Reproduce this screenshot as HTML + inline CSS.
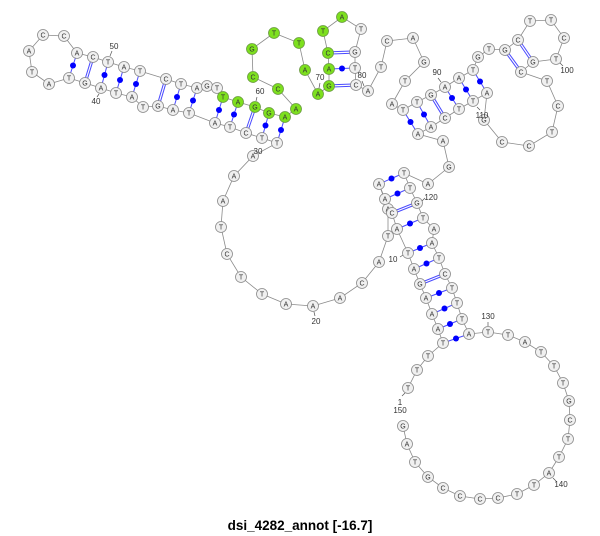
<!DOCTYPE html>
<html><head><meta charset="utf-8"><style>
html,body{margin:0;padding:0;background:#fff;}
svg{display:block;}
.bb{stroke:#8a8a8a;stroke-width:0.8;fill:none;}
.p{stroke:#4a4aff;stroke-width:1;}
.gc{stroke:#4a4aff;stroke-width:3.2;}
.gcw{stroke:#fff;stroke-width:1.2;}
.d{fill:#0000ff;}
circle.n{fill:#f0f0f0;stroke:#8a8a8a;stroke-width:0.8;}
circle.g{fill:#7de01e;stroke:#6a9a40;stroke-width:0.8;}
text{font-family:"Liberation Sans",sans-serif;font-size:7px;fill:#333;text-anchor:middle;}
text.l{font-size:8px;fill:#333;}
text.t{font-size:13.5px;font-weight:bold;fill:#000;}
.tk{stroke:#555;stroke-width:0.7;}
</style></head><body>
<svg width="600" height="536" viewBox="0 0 600 536" xmlns="http://www.w3.org/2000/svg">
<polyline class="bb" points="408,388 417,370 428,356 443,343 438,329 432,314 426,298 420,284 414,269 408,253 397,229 392,213 385,199 379,184 388,209 388,236 379,262 362,283 340,298 313,306 286,304 262,294 241,277 227,254 221,227 223,201 234,176 253,156 277,143 262,138 246,133 230,127 215,123 189,113 173,110 158,106 143,107 132,97 116,93 101,88 85,83 69,78 49,84 32,72 29,51 43,35 64,36 77,53 93,57 108,62 124,67 140,71 166,79 181,84 197,88 207,86 217,88 223,97 238,102 255,107 269,113 285,117 296,109 278,89 253,77 252,49 274,33 299,43 305,70 318,94 329,86 329,69 328,53 323,31 342,17 361,29 355,52 355,68 356,85 368,91 381,67 387,41 413,38 424,62 405,81 392,104 403,110 417,102 431,95 445,87 459,78 473,70 478,57 489,49 505,50 518,40 530,21 551,20 564,38 556,59 533,62 521,72 547,81 558,106 552,132 529,146 502,142 484,120 487,93 473,101 459,109 445,118 431,127 418,134 443,141 449,167 428,184 404,173 410,188 417,203 423,218 434,229 432,243 439,258 445,274 452,288 457,303 462,319 469,334 488,332 508,335 525,342 541,352 554,366 563,383 569,401 570,420 568,439 559,457 549,473 534,485 517,494 498,498 480,499 460,496 443,488 428,477 415,462 407,444 403,426"/>
<g class="p">
<line x1="77" y1="53" x2="69" y2="78"/><line x1="108" y1="62" x2="101" y2="88"/><line x1="124" y1="67" x2="116" y2="93"/><line x1="140" y1="71" x2="132" y2="97"/><line x1="181" y1="84" x2="173" y2="110"/><line x1="197" y1="88" x2="189" y2="113"/><line x1="223" y1="97" x2="215" y2="123"/><line x1="238" y1="102" x2="230" y2="127"/><line x1="269" y1="113" x2="262" y2="138"/><line x1="285" y1="117" x2="277" y2="143"/>
<line x1="329" y1="69" x2="355" y2="68"/>
<line x1="403" y1="110" x2="418" y2="134"/><line x1="417" y1="102" x2="431" y2="127"/><line x1="445" y1="87" x2="459" y2="109"/><line x1="459" y1="78" x2="473" y2="101"/><line x1="473" y1="70" x2="487" y2="93"/>
<line x1="443" y1="343" x2="469" y2="334"/><line x1="438" y1="329" x2="462" y2="319"/><line x1="432" y1="314" x2="457" y2="303"/><line x1="426" y1="298" x2="452" y2="288"/><line x1="414" y1="269" x2="439" y2="258"/><line x1="408" y1="253" x2="432" y2="243"/><line x1="397" y1="229" x2="423" y2="218"/><line x1="385" y1="199" x2="410" y2="188"/><line x1="379" y1="184" x2="404" y2="173"/>
</g>
<g class="gc">
<line x1="93" y1="57" x2="85" y2="83"/><line x1="166" y1="79" x2="158" y2="106"/><line x1="255" y1="107" x2="246" y2="133"/><line x1="328" y1="53" x2="355" y2="52"/><line x1="329" y1="86" x2="356" y2="85"/><line x1="431" y1="95" x2="445" y2="118"/><line x1="505" y1="50" x2="521" y2="72"/><line x1="518" y1="40" x2="533" y2="62"/><line x1="420" y1="284" x2="445" y2="274"/><line x1="392" y1="213" x2="417" y2="203"/>
</g>
<g class="gcw">
<line x1="93" y1="57" x2="85" y2="83"/><line x1="166" y1="79" x2="158" y2="106"/><line x1="255" y1="107" x2="246" y2="133"/><line x1="328" y1="53" x2="355" y2="52"/><line x1="329" y1="86" x2="356" y2="85"/><line x1="431" y1="95" x2="445" y2="118"/><line x1="505" y1="50" x2="521" y2="72"/><line x1="518" y1="40" x2="533" y2="62"/><line x1="420" y1="284" x2="445" y2="274"/><line x1="392" y1="213" x2="417" y2="203"/>
</g>
<g class="d">
<circle cx="73" cy="65.5" r="3"/><circle cx="104.5" cy="75" r="3"/><circle cx="120" cy="80" r="3"/><circle cx="136" cy="84" r="3"/><circle cx="177" cy="97" r="3"/><circle cx="193" cy="100.5" r="3"/><circle cx="219" cy="110" r="3"/><circle cx="234" cy="114.5" r="3"/><circle cx="265.5" cy="125.5" r="3"/><circle cx="281" cy="130" r="3"/>
<circle cx="342" cy="68.5" r="3"/>
<circle cx="410.5" cy="122" r="3"/><circle cx="424" cy="114.5" r="3"/><circle cx="452" cy="98" r="3"/><circle cx="466" cy="89.5" r="3"/><circle cx="480" cy="81.5" r="3"/>
<circle cx="456" cy="338.5" r="3"/><circle cx="450" cy="324" r="3"/><circle cx="444.5" cy="308.5" r="3"/><circle cx="439" cy="293" r="3"/><circle cx="426.5" cy="263.5" r="3"/><circle cx="420" cy="248" r="3"/><circle cx="410" cy="223.5" r="3"/><circle cx="397.5" cy="193.5" r="3"/><circle cx="391.5" cy="178.5" r="3"/>
</g>
<g>
<circle class="n" cx="388" cy="209" r="5.5"/><text x="388" y="211.5">A</text>
<circle class="n" cx="408" cy="388" r="5.5"/><text x="408" y="390.5">T</text>
<circle class="n" cx="417" cy="370" r="5.5"/><text x="417" y="372.5">T</text>
<circle class="n" cx="428" cy="356" r="5.5"/><text x="428" y="358.5">T</text>
<circle class="n" cx="443" cy="343" r="5.5"/><text x="443" y="345.5">T</text>
<circle class="n" cx="438" cy="329" r="5.5"/><text x="438" y="331.5">A</text>
<circle class="n" cx="432" cy="314" r="5.5"/><text x="432" y="316.5">A</text>
<circle class="n" cx="426" cy="298" r="5.5"/><text x="426" y="300.5">A</text>
<circle class="n" cx="420" cy="284" r="5.5"/><text x="420" y="286.5">G</text>
<circle class="n" cx="414" cy="269" r="5.5"/><text x="414" y="271.5">A</text>
<circle class="n" cx="408" cy="253" r="5.5"/><text x="408" y="255.5">T</text>
<circle class="n" cx="397" cy="229" r="5.5"/><text x="397" y="231.5">A</text>
<circle class="n" cx="392" cy="213" r="5.5"/><text x="392" y="215.5">C</text>
<circle class="n" cx="385" cy="199" r="5.5"/><text x="385" y="201.5">A</text>
<circle class="n" cx="379" cy="184" r="5.5"/><text x="379" y="186.5">A</text>
<circle class="n" cx="388" cy="236" r="5.5"/><text x="388" y="238.5">T</text>
<circle class="n" cx="379" cy="262" r="5.5"/><text x="379" y="264.5">A</text>
<circle class="n" cx="362" cy="283" r="5.5"/><text x="362" y="285.5">C</text>
<circle class="n" cx="340" cy="298" r="5.5"/><text x="340" y="300.5">A</text>
<circle class="n" cx="313" cy="306" r="5.5"/><text x="313" y="308.5">A</text>
<circle class="n" cx="286" cy="304" r="5.5"/><text x="286" y="306.5">A</text>
<circle class="n" cx="262" cy="294" r="5.5"/><text x="262" y="296.5">T</text>
<circle class="n" cx="241" cy="277" r="5.5"/><text x="241" y="279.5">T</text>
<circle class="n" cx="227" cy="254" r="5.5"/><text x="227" y="256.5">C</text>
<circle class="n" cx="221" cy="227" r="5.5"/><text x="221" y="229.5">T</text>
<circle class="n" cx="223" cy="201" r="5.5"/><text x="223" y="203.5">A</text>
<circle class="n" cx="234" cy="176" r="5.5"/><text x="234" y="178.5">A</text>
<circle class="n" cx="253" cy="156" r="5.5"/><text x="253" y="158.5">A</text>
<circle class="n" cx="277" cy="143" r="5.5"/><text x="277" y="145.5">T</text>
<circle class="n" cx="262" cy="138" r="5.5"/><text x="262" y="140.5">T</text>
<circle class="n" cx="246" cy="133" r="5.5"/><text x="246" y="135.5">C</text>
<circle class="n" cx="230" cy="127" r="5.5"/><text x="230" y="129.5">T</text>
<circle class="n" cx="215" cy="123" r="5.5"/><text x="215" y="125.5">A</text>
<circle class="n" cx="189" cy="113" r="5.5"/><text x="189" y="115.5">T</text>
<circle class="n" cx="173" cy="110" r="5.5"/><text x="173" y="112.5">A</text>
<circle class="n" cx="158" cy="106" r="5.5"/><text x="158" y="108.5">G</text>
<circle class="n" cx="143" cy="107" r="5.5"/><text x="143" y="109.5">T</text>
<circle class="n" cx="132" cy="97" r="5.5"/><text x="132" y="99.5">A</text>
<circle class="n" cx="116" cy="93" r="5.5"/><text x="116" y="95.5">T</text>
<circle class="n" cx="101" cy="88" r="5.5"/><text x="101" y="90.5">A</text>
<circle class="n" cx="85" cy="83" r="5.5"/><text x="85" y="85.5">G</text>
<circle class="n" cx="69" cy="78" r="5.5"/><text x="69" y="80.5">T</text>
<circle class="n" cx="49" cy="84" r="5.5"/><text x="49" y="86.5">A</text>
<circle class="n" cx="32" cy="72" r="5.5"/><text x="32" y="74.5">T</text>
<circle class="n" cx="29" cy="51" r="5.5"/><text x="29" y="53.5">A</text>
<circle class="n" cx="43" cy="35" r="5.5"/><text x="43" y="37.5">C</text>
<circle class="n" cx="64" cy="36" r="5.5"/><text x="64" y="38.5">C</text>
<circle class="n" cx="77" cy="53" r="5.5"/><text x="77" y="55.5">A</text>
<circle class="n" cx="93" cy="57" r="5.5"/><text x="93" y="59.5">C</text>
<circle class="n" cx="108" cy="62" r="5.5"/><text x="108" y="64.5">T</text>
<circle class="n" cx="124" cy="67" r="5.5"/><text x="124" y="69.5">A</text>
<circle class="n" cx="140" cy="71" r="5.5"/><text x="140" y="73.5">T</text>
<circle class="n" cx="166" cy="79" r="5.5"/><text x="166" y="81.5">C</text>
<circle class="n" cx="181" cy="84" r="5.5"/><text x="181" y="86.5">T</text>
<circle class="n" cx="197" cy="88" r="5.5"/><text x="197" y="90.5">A</text>
<circle class="n" cx="207" cy="86" r="5.5"/><text x="207" y="88.5">G</text>
<circle class="n" cx="217" cy="88" r="5.5"/><text x="217" y="90.5">T</text>
<circle class="g" cx="223" cy="97" r="5.5"/><text x="223" y="99.5">T</text>
<circle class="g" cx="238" cy="102" r="5.5"/><text x="238" y="104.5">A</text>
<circle class="g" cx="255" cy="107" r="5.5"/><text x="255" y="109.5">G</text>
<circle class="g" cx="269" cy="113" r="5.5"/><text x="269" y="115.5">G</text>
<circle class="g" cx="285" cy="117" r="5.5"/><text x="285" y="119.5">A</text>
<circle class="g" cx="296" cy="109" r="5.5"/><text x="296" y="111.5">A</text>
<circle class="g" cx="278" cy="89" r="5.5"/><text x="278" y="91.5">C</text>
<circle class="g" cx="253" cy="77" r="5.5"/><text x="253" y="79.5">C</text>
<circle class="g" cx="252" cy="49" r="5.5"/><text x="252" y="51.5">G</text>
<circle class="g" cx="274" cy="33" r="5.5"/><text x="274" y="35.5">T</text>
<circle class="g" cx="299" cy="43" r="5.5"/><text x="299" y="45.5">T</text>
<circle class="g" cx="305" cy="70" r="5.5"/><text x="305" y="72.5">A</text>
<circle class="g" cx="318" cy="94" r="5.5"/><text x="318" y="96.5">A</text>
<circle class="g" cx="329" cy="86" r="5.5"/><text x="329" y="88.5">G</text>
<circle class="g" cx="329" cy="69" r="5.5"/><text x="329" y="71.5">A</text>
<circle class="g" cx="328" cy="53" r="5.5"/><text x="328" y="55.5">C</text>
<circle class="g" cx="323" cy="31" r="5.5"/><text x="323" y="33.5">T</text>
<circle class="g" cx="342" cy="17" r="5.5"/><text x="342" y="19.5">A</text>
<circle class="n" cx="361" cy="29" r="5.5"/><text x="361" y="31.5">T</text>
<circle class="n" cx="355" cy="52" r="5.5"/><text x="355" y="54.5">G</text>
<circle class="n" cx="355" cy="68" r="5.5"/><text x="355" y="70.5">T</text>
<circle class="n" cx="356" cy="85" r="5.5"/><text x="356" y="87.5">C</text>
<circle class="n" cx="368" cy="91" r="5.5"/><text x="368" y="93.5">A</text>
<circle class="n" cx="381" cy="67" r="5.5"/><text x="381" y="69.5">T</text>
<circle class="n" cx="387" cy="41" r="5.5"/><text x="387" y="43.5">C</text>
<circle class="n" cx="413" cy="38" r="5.5"/><text x="413" y="40.5">A</text>
<circle class="n" cx="424" cy="62" r="5.5"/><text x="424" y="64.5">G</text>
<circle class="n" cx="405" cy="81" r="5.5"/><text x="405" y="83.5">T</text>
<circle class="n" cx="392" cy="104" r="5.5"/><text x="392" y="106.5">A</text>
<circle class="n" cx="403" cy="110" r="5.5"/><text x="403" y="112.5">T</text>
<circle class="n" cx="417" cy="102" r="5.5"/><text x="417" y="104.5">T</text>
<circle class="n" cx="431" cy="95" r="5.5"/><text x="431" y="97.5">G</text>
<circle class="n" cx="445" cy="87" r="5.5"/><text x="445" y="89.5">A</text>
<circle class="n" cx="459" cy="78" r="5.5"/><text x="459" y="80.5">A</text>
<circle class="n" cx="473" cy="70" r="5.5"/><text x="473" y="72.5">T</text>
<circle class="n" cx="478" cy="57" r="5.5"/><text x="478" y="59.5">G</text>
<circle class="n" cx="489" cy="49" r="5.5"/><text x="489" y="51.5">T</text>
<circle class="n" cx="505" cy="50" r="5.5"/><text x="505" y="52.5">G</text>
<circle class="n" cx="518" cy="40" r="5.5"/><text x="518" y="42.5">C</text>
<circle class="n" cx="530" cy="21" r="5.5"/><text x="530" y="23.5">T</text>
<circle class="n" cx="551" cy="20" r="5.5"/><text x="551" y="22.5">T</text>
<circle class="n" cx="564" cy="38" r="5.5"/><text x="564" y="40.5">C</text>
<circle class="n" cx="556" cy="59" r="5.5"/><text x="556" y="61.5">T</text>
<circle class="n" cx="533" cy="62" r="5.5"/><text x="533" y="64.5">G</text>
<circle class="n" cx="521" cy="72" r="5.5"/><text x="521" y="74.5">C</text>
<circle class="n" cx="547" cy="81" r="5.5"/><text x="547" y="83.5">T</text>
<circle class="n" cx="558" cy="106" r="5.5"/><text x="558" y="108.5">C</text>
<circle class="n" cx="552" cy="132" r="5.5"/><text x="552" y="134.5">T</text>
<circle class="n" cx="529" cy="146" r="5.5"/><text x="529" y="148.5">C</text>
<circle class="n" cx="502" cy="142" r="5.5"/><text x="502" y="144.5">C</text>
<circle class="n" cx="484" cy="120" r="5.5"/><text x="484" y="122.5">G</text>
<circle class="n" cx="487" cy="93" r="5.5"/><text x="487" y="95.5">A</text>
<circle class="n" cx="473" cy="101" r="5.5"/><text x="473" y="103.5">T</text>
<circle class="n" cx="459" cy="109" r="5.5"/><text x="459" y="111.5">T</text>
<circle class="n" cx="445" cy="118" r="5.5"/><text x="445" y="120.5">C</text>
<circle class="n" cx="431" cy="127" r="5.5"/><text x="431" y="129.5">A</text>
<circle class="n" cx="418" cy="134" r="5.5"/><text x="418" y="136.5">A</text>
<circle class="n" cx="443" cy="141" r="5.5"/><text x="443" y="143.5">A</text>
<circle class="n" cx="449" cy="167" r="5.5"/><text x="449" y="169.5">G</text>
<circle class="n" cx="428" cy="184" r="5.5"/><text x="428" y="186.5">A</text>
<circle class="n" cx="404" cy="173" r="5.5"/><text x="404" y="175.5">T</text>
<circle class="n" cx="410" cy="188" r="5.5"/><text x="410" y="190.5">T</text>
<circle class="n" cx="417" cy="203" r="5.5"/><text x="417" y="205.5">G</text>
<circle class="n" cx="423" cy="218" r="5.5"/><text x="423" y="220.5">T</text>
<circle class="n" cx="434" cy="229" r="5.5"/><text x="434" y="231.5">A</text>
<circle class="n" cx="432" cy="243" r="5.5"/><text x="432" y="245.5">A</text>
<circle class="n" cx="439" cy="258" r="5.5"/><text x="439" y="260.5">T</text>
<circle class="n" cx="445" cy="274" r="5.5"/><text x="445" y="276.5">C</text>
<circle class="n" cx="452" cy="288" r="5.5"/><text x="452" y="290.5">T</text>
<circle class="n" cx="457" cy="303" r="5.5"/><text x="457" y="305.5">T</text>
<circle class="n" cx="462" cy="319" r="5.5"/><text x="462" y="321.5">T</text>
<circle class="n" cx="469" cy="334" r="5.5"/><text x="469" y="336.5">A</text>
<circle class="n" cx="488" cy="332" r="5.5"/><text x="488" y="334.5">T</text>
<circle class="n" cx="508" cy="335" r="5.5"/><text x="508" y="337.5">T</text>
<circle class="n" cx="525" cy="342" r="5.5"/><text x="525" y="344.5">A</text>
<circle class="n" cx="541" cy="352" r="5.5"/><text x="541" y="354.5">T</text>
<circle class="n" cx="554" cy="366" r="5.5"/><text x="554" y="368.5">T</text>
<circle class="n" cx="563" cy="383" r="5.5"/><text x="563" y="385.5">T</text>
<circle class="n" cx="569" cy="401" r="5.5"/><text x="569" y="403.5">G</text>
<circle class="n" cx="570" cy="420" r="5.5"/><text x="570" y="422.5">C</text>
<circle class="n" cx="568" cy="439" r="5.5"/><text x="568" y="441.5">T</text>
<circle class="n" cx="559" cy="457" r="5.5"/><text x="559" y="459.5">T</text>
<circle class="n" cx="549" cy="473" r="5.5"/><text x="549" y="475.5">A</text>
<circle class="n" cx="534" cy="485" r="5.5"/><text x="534" y="487.5">T</text>
<circle class="n" cx="517" cy="494" r="5.5"/><text x="517" y="496.5">T</text>
<circle class="n" cx="498" cy="498" r="5.5"/><text x="498" y="500.5">C</text>
<circle class="n" cx="480" cy="499" r="5.5"/><text x="480" y="501.5">C</text>
<circle class="n" cx="460" cy="496" r="5.5"/><text x="460" y="498.5">C</text>
<circle class="n" cx="443" cy="488" r="5.5"/><text x="443" y="490.5">C</text>
<circle class="n" cx="428" cy="477" r="5.5"/><text x="428" y="479.5">G</text>
<circle class="n" cx="415" cy="462" r="5.5"/><text x="415" y="464.5">T</text>
<circle class="n" cx="407" cy="444" r="5.5"/><text x="407" y="446.5">A</text>
<circle class="n" cx="403" cy="426" r="5.5"/><text x="403" y="428.5">G</text>
</g>
<g>
<line class="tk" x1="402" y1="396" x2="405" y2="393"/><text class="l" x="400" y="405">1</text><text class="l" x="400" y="413">150</text>
<line class="tk" x1="400" y1="257" x2="403" y2="255"/><text class="l" x="393" y="262">10</text>
<line class="tk" x1="314" y1="312" x2="315" y2="316"/><text class="l" x="316" y="324">20</text>
<text class="l" x="258" y="154">30</text>
<line class="tk" x1="99" y1="94" x2="97" y2="97"/><text class="l" x="96" y="104">40</text>
<line class="tk" x1="110" y1="56" x2="112" y2="51"/><text class="l" x="114" y="49">50</text>
<line class="tk" x1="256" y1="101" x2="257" y2="97"/><text class="l" x="260" y="94">60</text>
<line class="tk" x1="319" y1="88" x2="320" y2="83"/><text class="l" x="320" y="80">70</text>
<line class="tk" x1="364" y1="86" x2="362" y2="81"/><text class="l" x="362" y="78">80</text>
<line class="tk" x1="441" y1="82" x2="438" y2="78"/><text class="l" x="437" y="75">90</text>
<line class="tk" x1="560" y1="63" x2="563" y2="66"/><text class="l" x="567" y="73">100</text>
<line class="tk" x1="477" y1="107" x2="480" y2="110"/><text class="l" x="482" y="118">110</text>
<line class="tk" x1="422" y1="201" x2="425" y2="198"/><text class="l" x="431" y="200">120</text>
<line class="tk" x1="488" y1="326" x2="488" y2="322"/><text class="l" x="488" y="319">130</text>
<line class="tk" x1="553" y1="478" x2="556" y2="481"/><text class="l" x="561" y="487">140</text>
</g>
<text class="t" x="300" y="530">dsi_4282_annot [-16.7]</text>
</svg>
</body></html>
